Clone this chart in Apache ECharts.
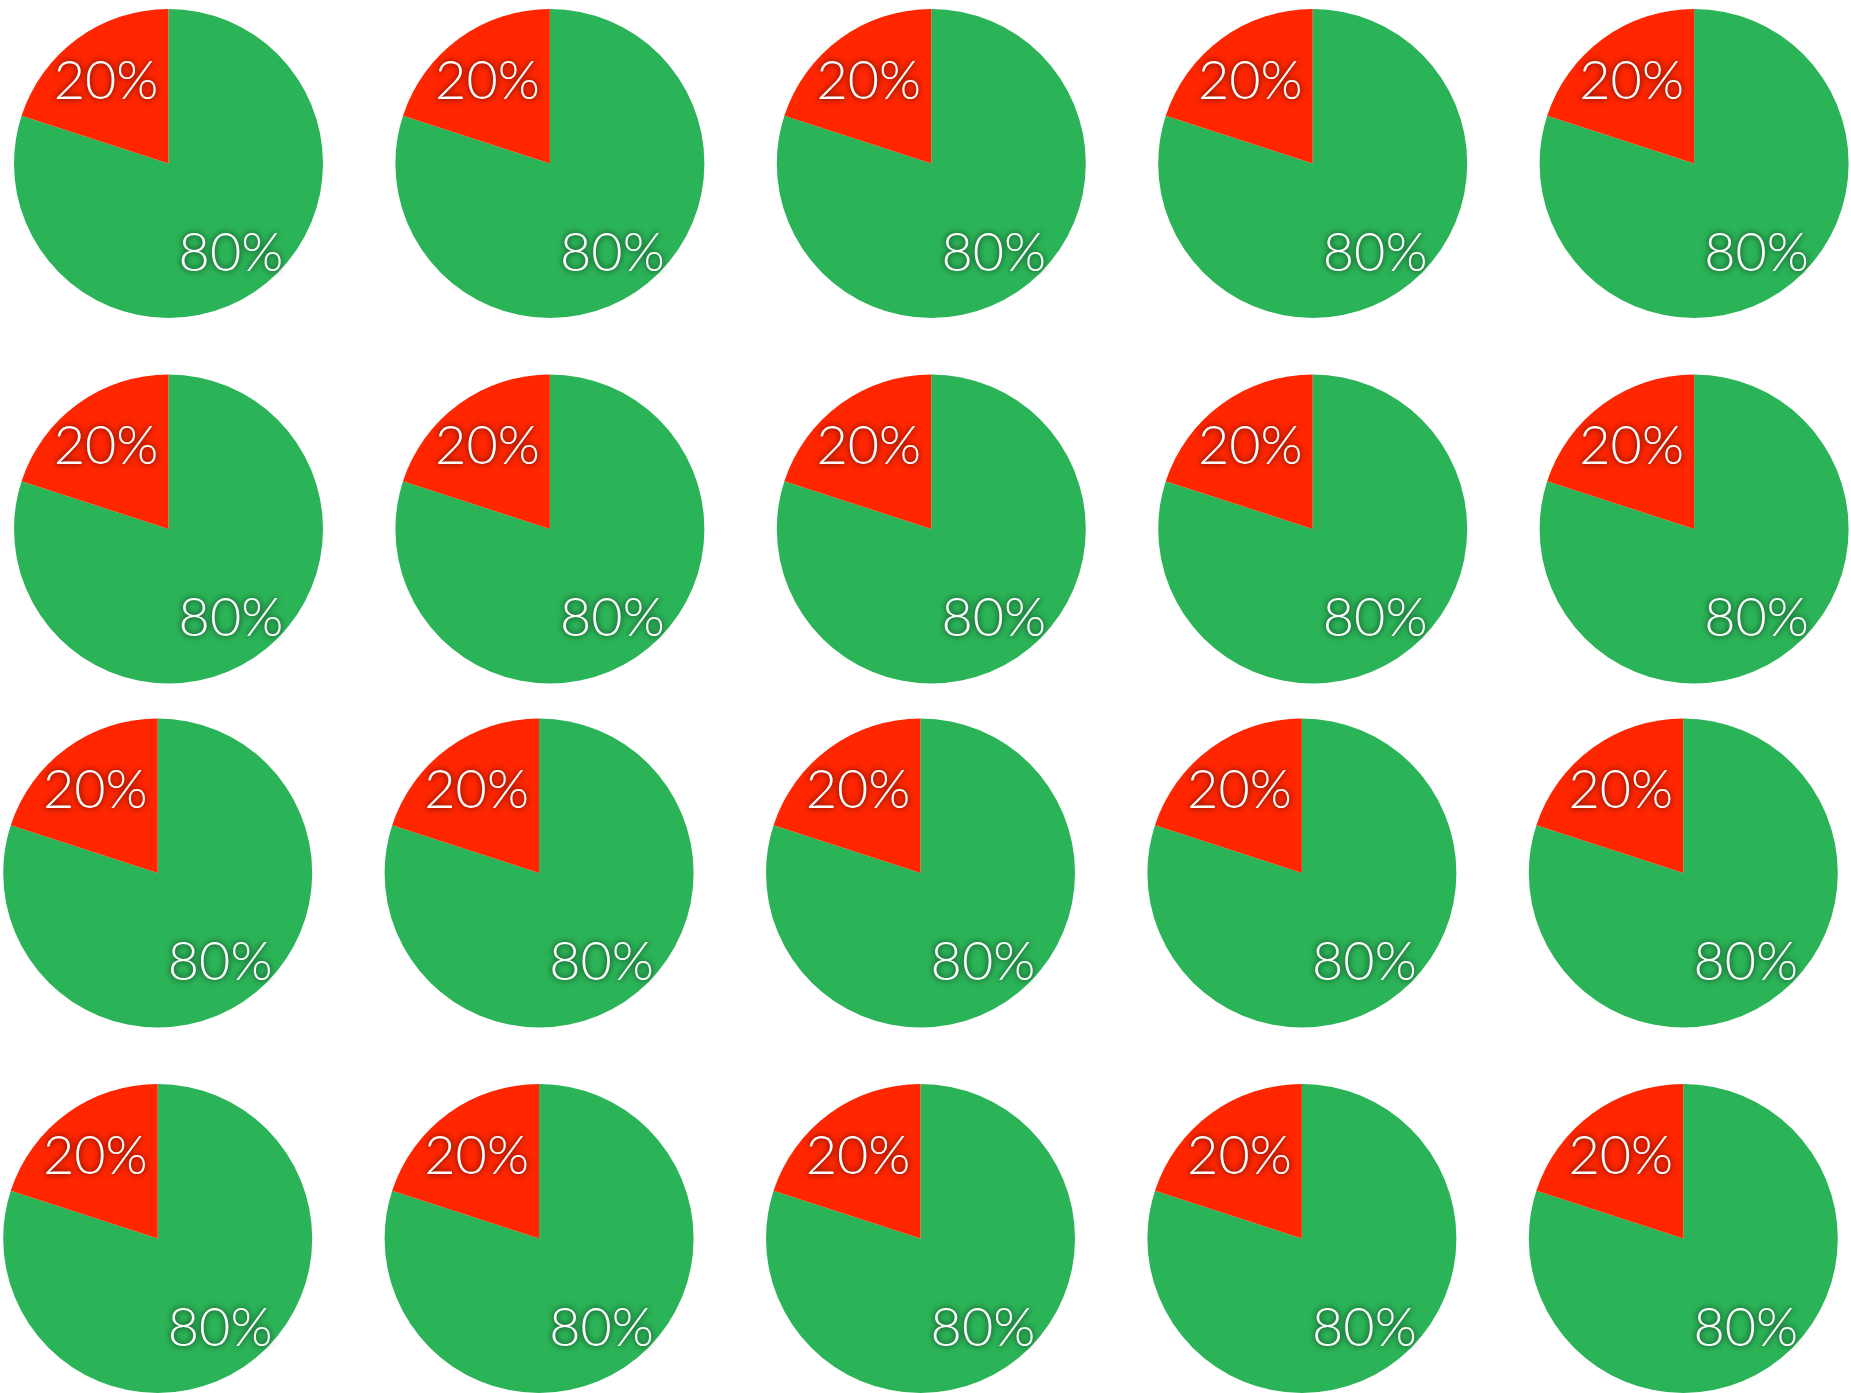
<!DOCTYPE html>
<html>
<head>
<meta charset="utf-8">
<script src="https://cdn.jsdelivr.net/npm/echarts@6/dist/echarts.min.js"></script>
<style>
html,body{margin:0;padding:0;background:#fff;}
#chart{width:1851px;height:1393px;}
</style>
</head>
<body>
<div id="chart"></div>
<script>
// ---- data ----
const categories = ['Green', 'Red'];
const pieValues = [
  [80, 20], [80, 20], [80, 20], [80, 20], [80, 20],
  [80, 20], [80, 20], [80, 20], [80, 20], [80, 20],
  [80, 20], [80, 20], [80, 20], [80, 20], [80, 20],
  [80, 20], [80, 20], [80, 20], [80, 20], [80, 20]
];

// ---- layout ----
const COLS = 5;
const rowY = [163.5, 529, 873, 1238.5];
const rowX0 = [168.5, 168.5, 157.7, 157.7];
const colStep = 381.4;
const R = 154.5;
const LABEL_R0 = 52;
const LABEL_DY = 4;
const sliceColors = ['#2BB357', '#FF2600'];

const series = [];
pieValues.forEach((vals, i) => {
  const row = Math.floor(i / COLS), col = i % COLS;
  const cx = rowX0[row] + col * colStep;
  const cy = rowY[row];
  const data = categories.map((name, k) => ({ name, value: vals[k] }));
  series.push({
    type: 'pie',
    center: [cx, cy],
    radius: [0, R],
    startAngle: 90,
    clockwise: true,
    silent: true,
    animation: false,
    label: { show: false },
    labelLine: { show: false },
    itemStyle: { color: (p) => sliceColors[p.dataIndex], borderWidth: 0 },
    data: data
  });
  series.push({
    type: 'pie',
    center: [cx, cy + LABEL_DY],
    radius: [LABEL_R0, R],
    startAngle: 90,
    clockwise: true,
    silent: true,
    animation: false,
    itemStyle: { color: 'rgba(0,0,0,0)', borderWidth: 0 },
    label: {
      show: true,
      position: 'inside',
      formatter: '{c}%',
      color: '#ffffff',
      fontSize: 54,
      fontWeight: 300,
      fontFamily: '"Helvetica Neue", Lato, Roboto, "Open Sans", sans-serif',
      textShadowColor: 'rgba(0,0,0,0.8)',
      textShadowBlur: 6,
      textShadowOffsetX: 0,
      textShadowOffsetY: 0
    },
    labelLine: { show: false },
    data: data
  });
});

const chart = echarts.init(document.getElementById('chart'), null, { renderer: 'canvas' });
chart.setOption({ backgroundColor: '#ffffff', animation: false, series: series });
</script>
</body>
</html>
